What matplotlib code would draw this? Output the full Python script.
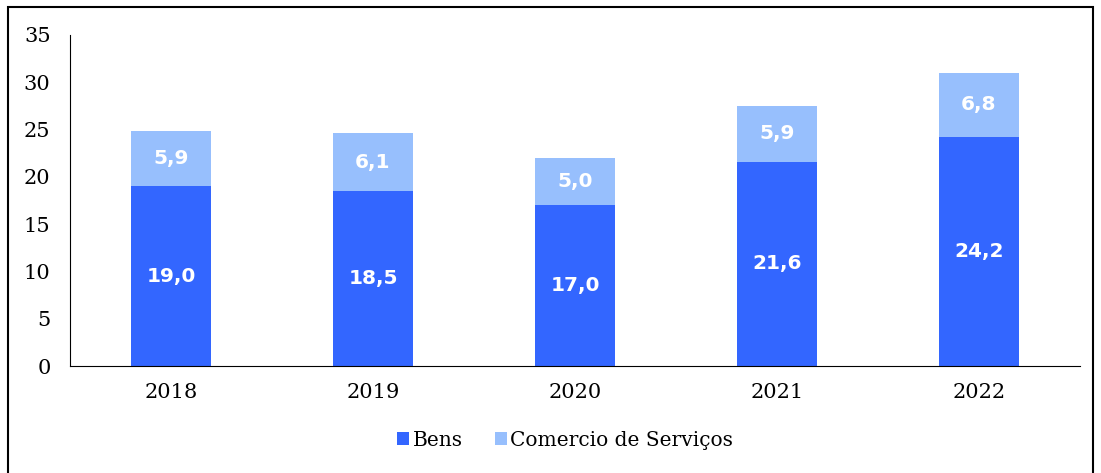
import matplotlib.pyplot as plt
from matplotlib.patches import Rectangle

# Valores (bilhões) por ano
anos = ['2018', '2019', '2020', '2021', '2022']
bens = [19.0, 18.5, 17.0, 21.6, 24.2]
servicos = [5.9, 6.1, 5.0, 5.9, 6.8]

cor_bens = '#3366FF'
cor_serv = '#97BFFD'

fig = plt.figure(figsize=(11.01, 4.73), dpi=100)
ax = fig.add_axes([70 / 1101, 1 - 366 / 473, 1010 / 1101, 331 / 473])

x = range(len(anos))
b1 = ax.bar(x, bens, width=0.4, color=cor_bens, label='Bens')
b2 = ax.bar(x, servicos, width=0.4, bottom=bens, color=cor_serv,
            label='Comercio de Serviços')

# rótulos brancos dentro das barras
for i in x:
    ax.text(i, bens[i] / 2, f'{bens[i]:.1f}'.replace('.', ','), ha='center', va='center',
            color='white', fontweight='bold', fontsize=14.5, family='DejaVu Sans')
    ax.text(i, bens[i] + servicos[i] / 2, f'{servicos[i]:.1f}'.replace('.', ','),
            ha='center', va='center', color='white', fontweight='bold', fontsize=14.5,
            family='DejaVu Sans')

ax.set_xlim(-0.5, 4.5)
ax.set_ylim(0, 35)
ax.set_yticks(range(0, 36, 5))
ax.set_xticks(list(x))
ax.set_xticklabels(anos)
ax.spines['top'].set_visible(False)
ax.spines['right'].set_visible(False)
ax.tick_params(length=0, labelsize=15)
ax.tick_params(axis='y', pad=14)
ax.tick_params(axis='x', pad=12)
for lab in ax.get_xticklabels() + ax.get_yticklabels():
    lab.set_family('DejaVu Serif')

leg = fig.legend(loc='center', bbox_to_anchor=(565 / 1101, 1 - 440 / 473), ncol=2,
                 frameon=False, handlelength=0.6, handleheight=0.6, handletextpad=0.15,
                 columnspacing=1.6, prop={'family': 'DejaVu Serif', 'size': 14.5})

# moldura externa
fig.patches.append(Rectangle((8 / 1101, -0.05), 1085 / 1101, 1.05 - 7 / 473,
                             transform=fig.transFigure, fill=False, edgecolor='black',
                             linewidth=1.5))

fig.savefig('out.png', dpi=100)
